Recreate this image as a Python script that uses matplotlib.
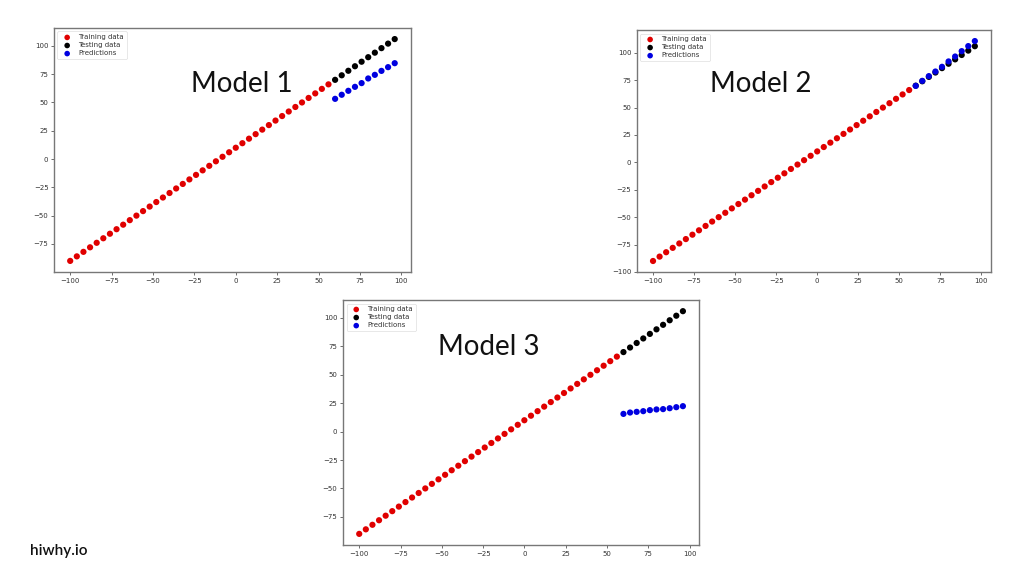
import matplotlib
matplotlib.use("Agg")
import matplotlib.pyplot as plt
import numpy as np

# Data
X_train = list(range(-100, 60, 4))
y_train = [x + 10 for x in X_train]
X_test = list(range(60, 100, 4))
y_test = [x + 10 for x in X_test]

pred_model1 = [53.2, 56.8, 60.3, 63.8, 67.1, 71.2, 74.4, 77.9, 81.2, 84.7]
pred_model2 = [69.8, 74.4, 78.7, 82.9, 87.2, 92.1, 96.6, 101.5, 106.1, 110.7]
pred_model3 = [15.6, 16.8, 17.4, 18.0, 18.9, 19.5, 19.8, 20.6, 21.5, 22.4]

titles = ["Model 1", "Model 2", "Model 3"]
preds = [pred_model1, pred_model2, pred_model3]

fig = plt.figure(figsize=(10.24, 5.76), dpi=100)
fig.patch.set_facecolor("white")

rects = [
    [0.0527, 0.5278, 0.3486, 0.4236],
    [0.6220, 0.5278, 0.3457, 0.4200],
    [0.3350, 0.0538, 0.3477, 0.4253],
]
title_pos = [(242, 84), (761, 84), (489, 347)]

for rect, title, pred, tp in zip(rects, titles, preds, title_pos):
    ax = fig.add_axes(rect)
    ax.scatter(X_train, y_train, c="#e00000", s=20, label="Training data", edgecolors="none")
    ax.scatter(X_test, y_test, c="k", s=20, label="Testing data", edgecolors="none")
    ax.scatter(X_test, pred, c="#0000e0", s=20, label="Predictions", edgecolors="none")
    ax.set_xticks([-100, -75, -50, -25, 0, 25, 50, 75, 100])
    ax.tick_params(labelsize=5, length=2, width=0.5, colors="#333333", pad=2)
    for sp in ax.spines.values():
        sp.set_color("#777777")
        sp.set_linewidth(1.0)
    leg = ax.legend(loc="upper left", fontsize=5, markerscale=0.9, handletextpad=0.6,
                    borderpad=0.4, labelspacing=0.3, frameon=True, fancybox=True)
    leg.get_frame().set_linewidth(0.4)
    for t in leg.get_texts():
        t.set_color("#333333")
    fig.text(tp[0] / 1024, 1 - tp[1] / 576, title, ha="center", va="center",
             fontsize=20, family="Lato", color="#111111")

fig.text(30 / 1024, 1 - 551 / 576, "hiwhy.io", ha="left", va="center",
         fontsize=11, family="Lato", fontweight="semibold", color="#111111")

fig.savefig("out.png", dpi=100)
